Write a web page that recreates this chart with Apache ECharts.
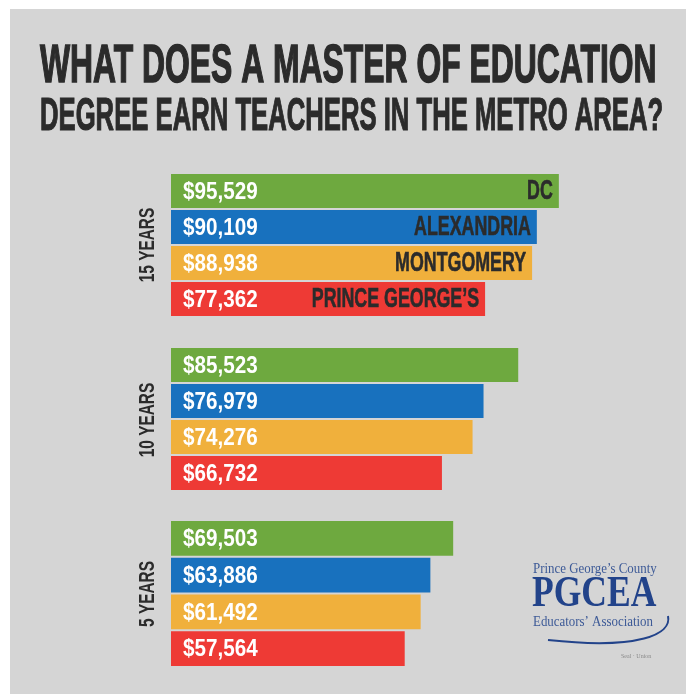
<!DOCTYPE html>
<html>
<head>
<meta charset="utf-8">
<script src="https://cdn.jsdelivr.net/npm/echarts@6/dist/echarts.min.js"></script>
<style>
  html, body { margin: 0; padding: 0; background: #fff; }
  #chart { width: 686px; height: 694px; }
</style>
</head>
<body>
<div id="chart"></div>
<script>
// cities, top to bottom inside each group
var cities = ['DC', 'ALEXANDRIA', 'MONTGOMERY', 'PRINCE GEORGE\u2019S'];
var groupNames = ['15 YEARS', '10 YEARS', '5 YEARS'];
// salaries per group
var years15 = [95529, 90109, 88938, 77362];
var years10 = [85523, 76979, 74276, 66732];
var years5 = [69503, 63886, 61492, 57564];

var cityColors = ['#6ea93f', '#1871be', '#f0b03c', '#ee3a35'];
var sans = '"Liberation Sans", Arial, sans-serif';
var dark = '#2b2b2b';

var chart = echarts.init(document.getElementById('chart'));

// one grid per group
var grids = [
    { left: 171, top: 173, width: 406, height: 144 },
    { left: 171, top: 347, width: 406, height: 144 },
    { left: 171, top: 520, width: 406, height: 147 }
];

var xAxes = [], yAxes = [];
grids.forEach(function (g, i) {
    xAxes.push({ gridIndex: i, type: 'value', min: 0, max: 100000, show: false });
    yAxes.push({
        gridIndex: i,
        type: 'category',
        data: cities,
        inverse: true,
        show: false
    });
});

// labels are drawn with a custom series so the condensed look can be faked with scaleX
function labelRenderer(showName) {
    return function (params, api) {
        var val = api.value(0);
        var idx = api.value(1);
        var start = api.coord([0, idx]);
        var end = api.coord([val, idx]);
        var kids = [{
            type: 'text',
            x: start[0] + 12,
            y: start[1] + 1,
            scaleX: 0.86,
            style: {
                text: '$' + val.toLocaleString('en-US'),
                font: 'bold 24px ' + sans,
                fill: '#fff',
                textVerticalAlign: 'middle'
            }
        }];
        if (showName) {
            kids.push({
                type: 'text',
                x: end[0] - 6,
                y: start[1] + 1,
                scaleX: 0.66,
                style: {
                    text: cities[idx],
                    font: 'bold 27px ' + sans,
                    fill: dark,
                    stroke: dark,
                    lineWidth: 0.6,
                    textAlign: 'right',
                    textVerticalAlign: 'middle'
                }
            });
        }
        return { type: 'group', children: kids };
    };
}

var groups = [years15, years10, years5];
var series = [];
groups.forEach(function (data, i) {
    series.push({
        type: 'bar',
        xAxisIndex: i,
        yAxisIndex: i,
        data: data,
        colorBy: 'data',
        barCategoryGap: '6%',
        silent: true
    });
    series.push({
        type: 'custom',
        xAxisIndex: i,
        yAxisIndex: i,
        silent: true,
        z: 5,
        data: data.map(function (v, k) { return [v, k]; }),
        encode: { x: 0, y: 1 },
        renderItem: labelRenderer(i === 0)
    });
});

var groupCenters = [245, 420, 594];
var serif = '"Liberation Serif", "DejaVu Serif", serif';
var navy = '#22438a';

var graphics = [
    // white frame strips
    { type: 'rect', left: 0, top: 0, shape: { width: 686, height: 9 }, style: { fill: '#fff' } },
    { type: 'rect', left: 0, top: 0, shape: { width: 10, height: 694 }, style: { fill: '#fff' } },
    {
        type: 'text', x: 40, y: 67, scaleX: 0.59,
        style: {
            text: 'WHAT DOES A MASTER OF EDUCATION',
            font: 'bold 54px ' + sans,
            fill: dark, stroke: dark, lineWidth: 1.5,
            textVerticalAlign: 'middle'
        }
    },
    {
        type: 'text', x: 40, y: 117, scaleX: 0.558,
        style: {
            text: 'DEGREE EARN TEACHERS IN THE METRO AREA?',
            font: 'bold 46px ' + sans,
            fill: dark, stroke: dark, lineWidth: 1.2,
            textVerticalAlign: 'middle'
        }
    },
    // PGCEA logo
    {
        type: 'text', x: 533, y: 569, scaleX: 0.86,
        style: { text: 'Prince George\u2019s County', font: '15px ' + serif, fill: '#3d5a97', textVerticalAlign: 'middle' }
    },
    {
        type: 'text', x: 532, y: 594, scaleX: 0.79,
        style: { text: 'PGCEA', font: 'bold 45px ' + serif, fill: navy, textVerticalAlign: 'middle' }
    },
    {
        type: 'text', x: 533, y: 622, scaleX: 0.86,
        style: { text: 'Educators\u2019 Association', font: '15px ' + serif, fill: '#3d5a97', textVerticalAlign: 'middle' }
    },
    {
        type: 'bezierCurve',
        shape: { x1: 548, y1: 640, x2: 668, y2: 616, cpx1: 640, cpy1: 650, cpx2: 672, cpy2: 634 },
        style: { stroke: navy, lineWidth: 2, fill: null }
    },
    {
        type: 'text', x: 621, y: 656,
        style: { text: 'Seal \u00b7 Union', font: '6px ' + serif, fill: '#8a8a8a', textVerticalAlign: 'middle' }
    }
];

// group names, rotated to read bottom-to-top
groupNames.forEach(function (name, i) {
    graphics.push({
        type: 'text',
        x: 148,
        y: groupCenters[i],
        rotation: Math.PI / 2,
        scaleX: 0.7,
        style: {
            text: name,
            font: 'bold 22px ' + sans,
            fill: dark,
            textAlign: 'center',
            textVerticalAlign: 'middle'
        }
    });
});

chart.setOption({
    backgroundColor: '#d5d5d5',
    color: cityColors,
    animation: false,
    grid: grids,
    xAxis: xAxes,
    yAxis: yAxes,
    series: series,
    graphic: graphics
});
</script>
</body>
</html>
